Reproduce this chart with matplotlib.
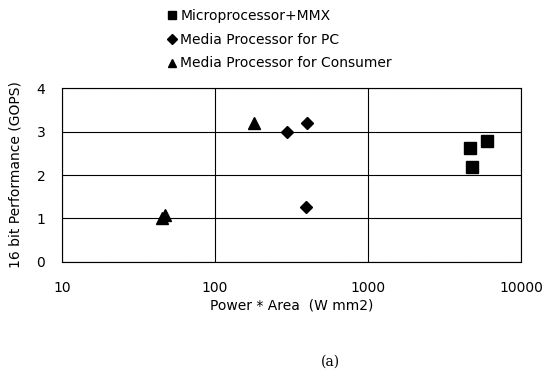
import matplotlib
matplotlib.use("Agg")
import matplotlib.pyplot as plt
from matplotlib.ticker import FixedLocator, FixedFormatter, NullLocator

# Power * Area (W mm2) vs 16 bit performance (GOPS)
mmx_x = [4640, 4790, 6000]
mmx_y = [2.62, 2.18, 2.78]

pc_x = [295, 400, 390]
pc_y = [2.99, 3.20, 1.26]

cons_x = [45, 47, 180]
cons_y = [1.00, 1.07, 3.20]

series_names = ["Microprocessor+MMX", "Media Processor for PC",
                "Media Processor for Consumer"]
x_ticks = [10, 100, 1000, 10000]
x_tick_labels = ["10", "100", "1000", "10000"]
y_ticks = [0, 1, 2, 3, 4]

plt.rcParams["font.family"] = ["DejaVu Sans"]

fig = plt.figure(figsize=(5.52, 3.78), dpi=100)
ax = fig.add_axes([0.1123, 0.307, 0.832, 0.460])

h1, = ax.plot(mmx_x, mmx_y, "s", color="black", markersize=8, linestyle="none")
h2, = ax.plot(pc_x, pc_y, "D", color="black", markersize=6, linestyle="none")
h3, = ax.plot(cons_x, cons_y, "^", color="black", markersize=8, linestyle="none")

ax.set_xscale("log")
ax.set_xlim(10, 10000)
ax.set_ylim(0, 4)
ax.xaxis.set_major_locator(FixedLocator(x_ticks))
ax.xaxis.set_major_formatter(FixedFormatter(x_tick_labels))
ax.xaxis.set_minor_locator(NullLocator())
ax.set_yticks(y_ticks)
ax.tick_params(axis="x", length=0, pad=14, labelsize=10)
ax.tick_params(axis="y", length=0, pad=12, labelsize=10)
ax.grid(True, color="black", linewidth=0.8)
ax.set_axisbelow(True)
for s in ax.spines.values():
    s.set_linewidth(0.8)
    s.set_linestyle((0, (1, 0.5)))

ax.set_xlabel("Power * Area  (W mm2)", fontsize=10, labelpad=2)
ax.set_ylabel("16 bit Performance (GOPS)", fontsize=10, labelpad=10)

leg = fig.legend([h1, h2, h3], series_names, loc="upper left",
                 bbox_to_anchor=(0.285, 1.0), frameon=False, fontsize=10,
                 handletextpad=0.2, handlelength=0.8, labelspacing=0.7,
                 markerscale=0.8, borderaxespad=0.25)

fig.text(0.598, 0.042, "(a)", fontsize=10, family="DejaVu Serif",
         ha="center", va="center")

fig.savefig("out.png", dpi=100)
